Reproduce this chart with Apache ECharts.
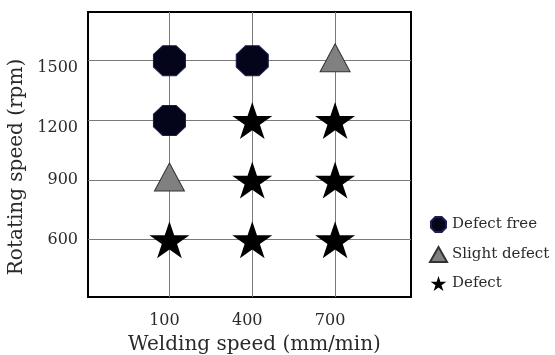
<!DOCTYPE html>
<html>
<head>
<meta charset="utf-8">
<script src="https://cdn.jsdelivr.net/npm/echarts@6/dist/echarts.min.js"></script>
<style>html,body{margin:0;padding:0;background:#fff;}#c{width:555px;height:355px;}</style>
</head>
<body>
<div id="c"></div>
<script>
// Data
var xTicks = [100, 400, 700];
var yTicks = [600, 900, 1200, 1500];
var defectFree = [[100, 1500], [400, 1500], [100, 1200]];
var slightDefect = [[700, 1500], [100, 900]];
var defect = [[400, 1200], [700, 1200], [400, 900], [700, 900], [100, 600], [400, 600], [700, 600]];
var seriesNames = ['Defect free', 'Slight defect', 'Defect'];
var xTitle = 'Welding speed (mm/min)';
var yTitle = 'Rotating speed (rpm)';

var FONT = 'DejaVu Serif';
var octagon = 'path://M29,0 L71,0 L100,29 L100,71 L71,100 L29,100 L0,71 L0,29 Z';
var star = 'path://M100,0 L122.45,69.1 L195.1,69.1 L136.3,111.8 L158.8,180.9 L100,138.2 L41.2,180.9 L63.7,111.8 L4.9,69.1 L77.55,69.1 Z';

var chart = echarts.init(document.getElementById('c'), null, {renderer: 'canvas'});
chart.setOption({
  animation: false,
  backgroundColor: '#fff',
  grid: {left: 88, top: 12, right: 144, bottom: 58, containLabel: false, outerBoundsMode: 'none',
    show: true, borderColor: '#000', borderWidth: 2, backgroundColor: 'transparent'},
  xAxis: {
    type: 'value', min: -195, max: 975,
    name: xTitle, nameLocation: 'middle', nameGap: 38,
    nameTextStyle: {fontFamily: FONT, fontSize: 20, color: '#2a2a2a', padding: [0, 0, 0, 10]},
    axisLine: {show: false},
    axisTick: {show: false, customValues: xTicks},
    axisLabel: {customValues: xTicks, fontFamily: FONT, fontSize: 16, color: '#2a2a2a', margin: 16, padding: [0, 10, 0, 0]},
    splitLine: {show: true, lineStyle: {color: '#7a7a7a', width: 1}}
  },
  yAxis: {
    type: 'value', min: 312, max: 1745,
    name: yTitle, nameLocation: 'middle', nameGap: 60,
    nameTextStyle: {fontFamily: FONT, fontSize: 20, color: '#2a2a2a', padding: [0, 25, 0, 0]},
    axisLine: {show: false},
    axisTick: {show: false, customValues: yTicks},
    axisLabel: {customValues: yTicks, fontFamily: FONT, fontSize: 16, color: '#2a2a2a', margin: 10,
      formatter: function (v) { return v >= 1200 ? '{low|' + v + '}' : '' + v; },
      rich: {low: {fontFamily: FONT, fontSize: 16, color: '#2a2a2a', padding: [15, 0, 0, 0]}}},
    splitLine: {show: true, lineStyle: {color: '#7a7a7a', width: 1}}
  },
  legend: {
    orient: 'vertical', left: 424, top: 211,
    itemWidth: 17, itemHeight: 15, itemGap: 13,
    textStyle: {fontFamily: FONT, fontSize: 15, color: '#2a2a2a', padding: [2, 0, 0, 0]},
    data: seriesNames
  },
  series: [
    {name: seriesNames[0], type: 'scatter', data: defectFree, symbol: octagon, symbolSize: [32, 30],
      itemStyle: {color: '#04041a', borderColor: '#1d1d50', borderWidth: 1, opacity: 1}, z: 3},
    {name: seriesNames[1], type: 'scatter', data: slightDefect, symbol: 'triangle', symbolSize: [30, 28], symbolOffset: [0, -3],
      itemStyle: {color: '#808080', borderColor: '#333', borderWidth: 1, opacity: 1}, z: 3},
    {name: seriesNames[2], type: 'scatter', data: defect, symbol: star, symbolSize: [40, 37],
      itemStyle: {color: '#000', opacity: 1}, z: 3}
  ]
});
</script>
</body>
</html>
